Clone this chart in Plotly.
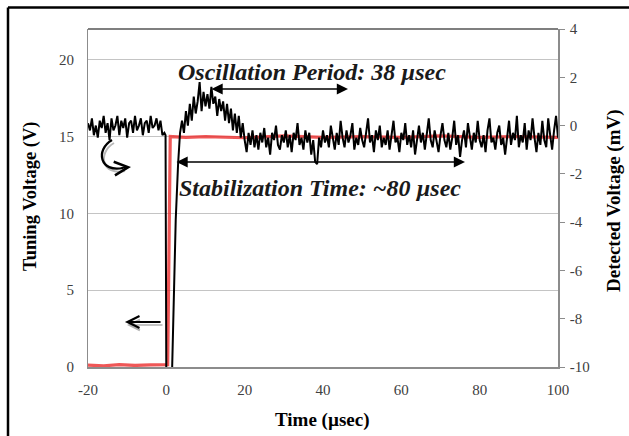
import numpy as np
import plotly.graph_objects as go

SERIF = "Liberation Serif, Times New Roman, serif"

# ---- Detected voltage (mV), right axis ----
# baseline before the tuning step, t = -20 .. -0.5 us every 0.5 us
det_pre = [0.1, -0.2, 0.3, -0.4, 0.0, -0.5, 0.2, -0.1, 0.4, -0.3,
           0.1, -0.6, 0.3, -0.2, 0.0, 0.4, -0.4, 0.2, -0.1, 0.3,
           -0.5, 0.1, 0.2, -0.3, 0.4, -0.2, 0.0, 0.3, -0.4, 0.1,
           0.2, -0.3, 0.4, -0.1, 0.0, 0.3, -0.2, 0.2, -0.4, -0.3]

# step transient and ringing
t_step = [-0.2, 0.0, 1.4, 2.4, 3.0, 3.5, 4.0, 4.5, 5.0, 5.5, 6.0, 6.5, 7.0, 7.5,
          8.0, 8.5, 9.0, 9.5, 10.0, 10.5, 11.0, 11.5, 12.0, 12.5, 13.0, 13.5,
          14.0, 14.5, 15.0, 15.5, 16.0, 16.5, 17.0, 17.5, 18.0, 18.5, 19.0,
          19.5, 20.0, 20.5]
det_step = [-0.4, -10.6, -10.6, -3.9, -1.6, -0.3, 0.2, -0.3, 0.6, 0.0, 0.9, 0.2,
            1.2, 0.5, 1.0, 1.8, 0.6, 1.4, 0.8, 1.3, 0.7, 1.6, 0.9, 1.2, 0.4, 1.1,
            0.6, 1.0, 0.2, 0.9, 0.1, 0.7, -0.2, 0.5, -0.3, 0.4, -0.5, 0.1, -0.6, -1.1]

# settled signal, t = 21 .. 100 us every 0.5 us
det_post = [-0.3, -0.8, -0.2, -0.9, -0.4, -1.0, -0.3, -0.7, -0.1, -0.9,
            -0.5, -1.2, -0.3, -0.6, 0.0, -0.8, -1.0, -0.4, -0.7, -0.2,
            -0.9, -0.4, -1.1, -0.3, -0.6, 0.1, -0.8, -0.5, -1.0, -0.2,
            -0.7, -0.3, -1.2, -0.6, -1.5, -1.6, -0.5, -0.9, -0.2, -0.7,
            -0.4, -0.9, 0.0, -0.6, -1.0, -0.3, -0.8, 0.2, -0.5, -0.9,
            -0.2, -0.7, -0.4, 0.1, -1.0, -0.5, -0.8, -0.1, -0.6, -0.9,
            -0.3, 0.3, -0.7, -0.4, -1.1, -0.2, -0.6, 0.0, -0.9, -0.5,
            -0.8, -0.2, -1.0, -0.4, 0.2, -0.7, -0.5, -1.1, -0.3, -0.6,
            0.1, -0.8, -0.4, -0.9, -0.2, -1.2, -0.5, 0.0, -0.7, -0.3,
            -1.0, -0.4, 0.3, -0.6, -0.9, -0.2, -0.7, -1.1, -0.4, 0.1,
            -0.6, -0.9, -0.3, -1.0, -0.5, 0.2, -0.8, -0.4, -1.3, -0.6,
            -0.2, -0.9, 0.1, -0.5, -1.0, -0.3, -0.7, 0.2, -0.6, -0.9,
            -0.4, -1.1, -0.2, 0.3, -0.7, -0.5, -1.0, -0.3, 0.0, -0.8,
            -0.5, -1.2, -0.4, 0.2, -0.8, -0.3, -0.6, 0.4, -0.9, -0.4,
            -0.7, 0.1, -1.0, -0.2, -0.6, 0.3, -0.5, -1.1, -0.3, -0.8,
            0.2, -0.6, -0.9, 0.3, -0.4, -1.0, -0.2, 0.4, -0.5]

t_pre = list(np.arange(-20.0, -0.25, 0.5))
t_post = list(np.arange(21.0, 100.25, 0.5))
t_det = t_pre + t_step + t_post
v_det = det_pre + det_step + det_post

# ---- Tuning voltage (V), left axis ----
t_tune = [-20, -16, -12, -8, -4, 0.35, 1.0, 5, 10, 20, 30, 40, 50, 60, 70, 80, 90, 100]
v_tune = [0.12, 0.08, 0.15, 0.1, 0.14, 0.15, 15.0, 14.95, 15.0, 14.92, 15.05,
          14.95, 15.0, 14.95, 15.05, 14.95, 15.0, 14.95]

# axis settings
x_range = [-20, 100]
x_ticks = [-20, 0, 20, 40, 60, 80, 100]
x_labels = ["-20", "0", "20", "40", "60", "80", "100"]
y_range = [0, 22]
y_ticks = [0, 5, 10, 15, 20]
y_labels = ["0", "5", "10", "15", "20"]
y2_range = [-10, 4]
y2_ticks = [-10, -8, -6, -4, -2, 0, 2, 4]
y2_labels = ["-10", "-8", "-6", "-4", "-2", "0", "2", "4"]

W, H = 629, 436
ML, MR, MT, MB = 88, 71, 29, 69
PW, PH = W - ML - MR, H - MT - MB


def px_x(px):
    return x_range[0] + (px - ML) / PW * (x_range[1] - x_range[0])


def px_y(py):
    return y_range[0] + (H - MB - py) / PH * (y_range[1] - y_range[0])


def px_y2(py):
    return y2_range[0] + (H - MB - py) / PH * (y2_range[1] - y2_range[0])


def paper_x(px):
    return (px - ML) / PW


def paper_y(py):
    return (H - MB - py) / PH


fig = go.Figure()
fig.add_trace(go.Scatter(x=t_det, y=v_det, yaxis="y2", mode="lines",
                         line=dict(color="black", width=2), showlegend=False))
fig.add_trace(go.Scatter(x=t_tune, y=v_tune, yaxis="y", mode="lines",
                         line=dict(color="rgba(235,45,45,0.8)", width=3.2),
                         showlegend=False))

tick_font = dict(family=SERIF, size=15, color="#404040")
axis_grey = "#8c8c8c"

fig.update_layout(
    width=W, height=H,
    margin=dict(l=ML, r=MR, t=MT, b=MB),
    paper_bgcolor="white", plot_bgcolor="white",
    xaxis=dict(range=x_range, tickvals=x_ticks, ticktext=x_labels, showgrid=False,
               zeroline=False, showline=True, linecolor=axis_grey, linewidth=1.5,
               ticks="", tickfont=tick_font, ticklabelstandoff=8),
    yaxis=dict(range=y_range, tickvals=y_ticks, ticktext=y_labels, showgrid=True,
               gridcolor="#c4c4c4", gridwidth=1.2, zeroline=False, showline=True,
               linecolor=axis_grey, linewidth=1, ticks="", tickfont=tick_font,
               ticklabelstandoff=10),
    yaxis2=dict(range=y2_range, tickvals=y2_ticks, ticktext=y2_labels, overlaying="y",
                side="right", showgrid=False, zeroline=False, showline=True,
                linecolor=axis_grey, linewidth=1.5, ticks="outside", ticklen=5,
                tickcolor=axis_grey, tickfont=tick_font, ticklabelstandoff=2),
)

title_font = dict(family=SERIF, size=19, color="black")
note_font = dict(family=SERIF, size=24, color="#1a1a1a")
centered = dict(xref="paper", yref="paper", xanchor="center", yanchor="middle",
                showarrow=False)
annotations = [
    dict(text="<b>Tuning Voltage (V)</b>", x=paper_x(30), y=paper_y(197),
         textangle=-90, font=dict(family=SERIF, size=18.5, color="black"), **centered),
    dict(text="<b>Detected Voltage (mV)</b>", x=paper_x(614), y=paper_y(201),
         textangle=-90, font=title_font, **centered),
    dict(text="<b>Time (µsec)</b>", x=paper_x(322), y=paper_y(420),
         font=title_font, **centered),
    dict(text="<b><i>Oscillation Period: 38 µsec</i></b>", x=paper_x(312),
         y=paper_y(72), font=note_font, **centered),
    dict(text="<b><i>Stabilization Time: ~80 µsec</i></b>", x=paper_x(320),
         y=paper_y(188), font=note_font, **centered),
]

# double-headed span arrows
for x0, x1, yv in [(px_x(210), px_x(348), px_y2(89)), (px_x(175), px_x(465), px_y2(162))]:
    annotations.append(dict(x=x1, y=yv, ax=x0, ay=yv, xref="x", yref="y2",
                            axref="x", ayref="y2", text="", showarrow=True,
                            arrowhead=2, startarrowhead=2, arrowside="end+start",
                            arrowsize=1.4, startarrowsize=1.4, arrowwidth=1.6,
                            arrowcolor="black"))

# left arrow pointing to the tuning-voltage axis (with soft shadow)
annotations.append(dict(x=px_x(127), y=px_y(325), ax=px_x(164), ay=px_y(325),
                        xref="x", yref="y", axref="x", ayref="y", text="",
                        showarrow=True, arrowhead=5, arrowsize=1.3, arrowwidth=1.6,
                        arrowcolor="#b0b0b0"))
annotations.append(dict(x=px_x(125), y=px_y(322), ax=px_x(162), ay=px_y(322),
                        xref="x", yref="y", axref="x", ayref="y", text="",
                        showarrow=True, arrowhead=5, arrowsize=1.3, arrowwidth=1.8,
                        arrowcolor="black"))
# head of the curved arrow pointing to the detected-voltage axis
annotations.append(dict(x=px_x(131), y=px_y(167), ax=px_x(120), ay=px_y(168),
                        xref="x", yref="y", axref="x", ayref="y", text="",
                        showarrow=True, arrowhead=5, arrowsize=1.5, arrowwidth=1.8,
                        arrowcolor="black"))


def curve_path(pts):
    (x0, y0), (c1x, c1y), (c2x, c2y), (x1, y1) = pts
    return (f"M {px_x(x0)},{px_y(y0)} C {px_x(c1x)},{px_y(c1y)} "
            f"{px_x(c2x)},{px_y(c2y)} {px_x(x1)},{px_y(y1)}")


curve = [(112, 140), (95, 150), (100, 173), (123, 168)]
curve_shadow = [(x + 2, y + 3) for x, y in curve]

shapes = [
    dict(type="path", xref="x", yref="y", path=curve_path(curve_shadow),
         line=dict(color="#b8b8b8", width=2)),
    dict(type="path", xref="x", yref="y", path=curve_path(curve),
         line=dict(color="black", width=2.3)),
    # top border of the plot area
    dict(type="line", xref="paper", yref="paper", x0=0, x1=1, y0=1, y1=1,
         line=dict(color="black", width=1.2)),
    # outer chart frame
    dict(type="line", xref="paper", yref="paper", x0=paper_x(8), x1=paper_x(640),
         y0=paper_y(7.5), y1=paper_y(7.5), line=dict(color="black", width=2.5)),
    dict(type="line", xref="paper", yref="paper", x0=paper_x(8), x1=paper_x(8),
         y0=paper_y(7.5), y1=paper_y(450), line=dict(color="black", width=2.5)),
]

fig.update_layout(annotations=annotations, shapes=shapes)
fig.write_html("out.html")
